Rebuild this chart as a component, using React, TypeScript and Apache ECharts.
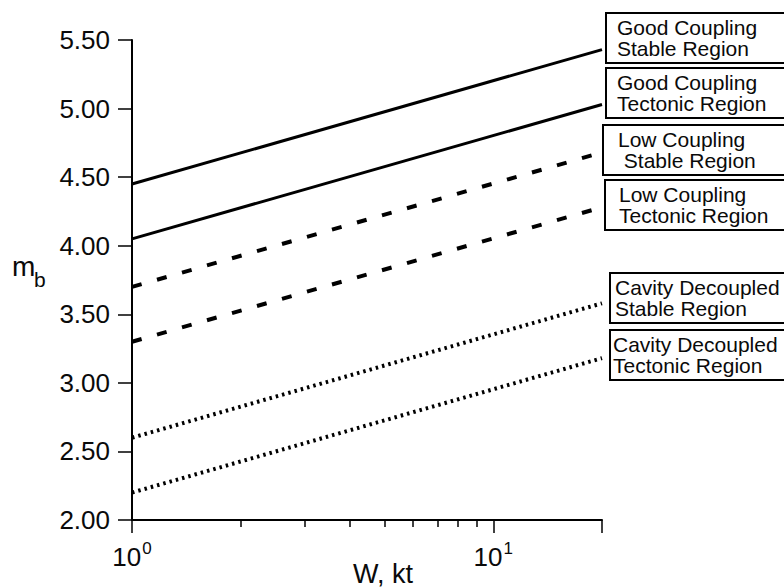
import React, { useEffect, useRef } from "react";
import * as echarts from "echarts";

// ---- data ----
const W = [1, 20];
const goodStable = [4.45, 5.43];
const goodTectonic = [4.05, 5.03];
const lowStable = [3.7, 4.68];
const lowTectonic = [3.3, 4.28];
const cavityStable = [2.6, 3.58];
const cavityTectonic = [2.2, 3.18];
const minorW = [2, 3, 4, 5, 6, 7, 8, 9];
const xMajorLabels: Record<number, string> = { 1: "0", 10: "1" };
const boxLabels = [
  ["Good Coupling", "Stable Region"],
  ["Good Coupling", "Tectonic Region"],
  ["Low Coupling", " Stable Region"],
  ["Low Coupling", "Tectonic Region"],
  ["Cavity Decoupled", "Stable Region"],
  ["Cavity Decoupled", "Tectonic Region"],
];

const FONT = "'Liberation Sans', Arial, Helvetica, sans-serif";
const INK = "#0a0a0a";

export default function App() {
  const ref = useRef<HTMLDivElement>(null);
  useEffect(() => {
    if (!ref.current) return;
    const chart = echarts.init(ref.current, undefined, { renderer: "svg" });

    const solid = { color: "#000", width: 3, type: "solid" as const };
    const dashed = { color: "#000", width: 4, type: [10, 16] as any, cap: "butt" as const };
    const dotted = { color: "#000", width: 4, type: [2.5, 4] as any, cap: "butt" as const };

    const mk = (name: string, vals: number[], ls: any) => ({
      name,
      type: "line",
      xAxisIndex: 0,
      yAxisIndex: 0,
      data: W.map((w, i) => [w, vals[i]]),
      showSymbol: false,
      symbol: "none",
      lineStyle: ls,
      silent: true,
    });

    // box layout
    const boxes = [
      { x: 606, y: 13, tx: 617 },
      { x: 606, y: 68, tx: 617 },
      { x: 603, y: 125, tx: 618 },
      { x: 605, y: 180, tx: 619 },
      { x: 610, y: 273, tx: 615 },
      { x: 610, y: 330, tx: 613 },
    ];
    const graphic: any[] = [];
    boxes.forEach((b, i) => {
      graphic.push({
        type: "rect",
        shape: { x: b.x, y: b.y, width: 220, height: 50 },
        style: { fill: "#fff", stroke: "#000", lineWidth: 2 },
        z: 10,
      });
      graphic.push({
        type: "text",
        x: b.tx,
        y: b.y + 25,
        style: {
          text: boxLabels[i].join("\n"),
          font: `21px ${FONT}`,
          lineHeight: 21,
          fill: INK,
          textAlign: "left",
          textVerticalAlign: "middle",
        },
        z: 11,
      });
    });
    graphic.push({
      type: "text",
      x: 383,
      y: 574,
      style: { text: "W, kt", font: `27px ${FONT}`, fill: INK, textAlign: "center", textVerticalAlign: "middle" },
    });
    graphic.push({
      type: "text",
      x: 12,
      y: 266,
      style: { text: "m", font: `28px ${FONT}`, fill: INK, textAlign: "left", textVerticalAlign: "middle" },
    });
    graphic.push({
      type: "text",
      x: 34,
      y: 279,
      style: { text: "b", font: `21px ${FONT}`, fill: INK, textAlign: "left", textVerticalAlign: "middle" },
    });

    chart.setOption({
      animation: false,
      backgroundColor: "#fff",
      grid: { left: 132, right: 182, top: 40, bottom: 68, containLabel: false },
      xAxis: [
        {
          type: "log",
          logBase: 10,
          min: 1,
          max: 20,
          position: "bottom",
          axisLine: { show: true, onZero: false, lineStyle: { color: "#000", width: 2 } },
          axisTick: { show: true, inside: false, length: 13, lineStyle: { color: "#000", width: 1.5 } },
          splitLine: { show: false },
          minorTick: { show: false },
          axisLabel: {
            show: true,
            margin: 20,
            color: INK,
            fontFamily: FONT,
            formatter: (v: number) => {
              const k = Math.round(v);
              return xMajorLabels[k] !== undefined && Math.abs(v - k) < 1e-6 ? `{b|10}{s|${xMajorLabels[k]}}` : "";
            },
            rich: {
              b: { fontSize: 26, fontFamily: FONT, color: INK, lineHeight: 30, verticalAlign: "bottom" },
              s: { fontSize: 17, fontFamily: FONT, color: INK, lineHeight: 30, verticalAlign: "top", padding: [0, 0, 0, 1] },
            },
          },
        },
        {
          type: "value",
          min: 0,
          max: Math.log10(20),
          position: "bottom",
          axisLine: { show: false },
          axisLabel: { show: false },
          splitLine: { show: false },
          axisTick: {
            show: true,
            inside: false,
            length: 7,
            customValues: minorW.map((w) => Math.log10(w)),
            lineStyle: { color: "#000", width: 1.5 },
          },
        },
      ],
      yAxis: {
        type: "value",
        min: 2,
        max: 5.5,
        interval: 0.5,
        axisLine: { show: true, onZero: false, lineStyle: { color: "#000", width: 2 } },
        axisTick: { show: true, inside: false, length: 14, lineStyle: { color: "#000", width: 1.5 } },
        splitLine: { show: false },
        axisLabel: {
          margin: 22,
          fontSize: 26,
          fontFamily: FONT,
          color: INK,
          formatter: (v: number) => v.toFixed(2),
        },
      },
      series: [
        mk("Good Coupling Stable Region", goodStable, solid),
        mk("Good Coupling Tectonic Region", goodTectonic, solid),
        mk("Low Coupling Stable Region", lowStable, dashed),
        mk("Low Coupling Tectonic Region", lowTectonic, dashed),
        mk("Cavity Decoupled Stable Region", cavityStable, dotted),
        mk("Cavity Decoupled Tectonic Region", cavityTectonic, dotted),
      ],
      graphic,
    });
    return () => chart.dispose();
  }, []);
  return <div ref={ref} style={{ width: 784, height: 588, position: "fixed", left: 0, top: 0 }} />;
}
